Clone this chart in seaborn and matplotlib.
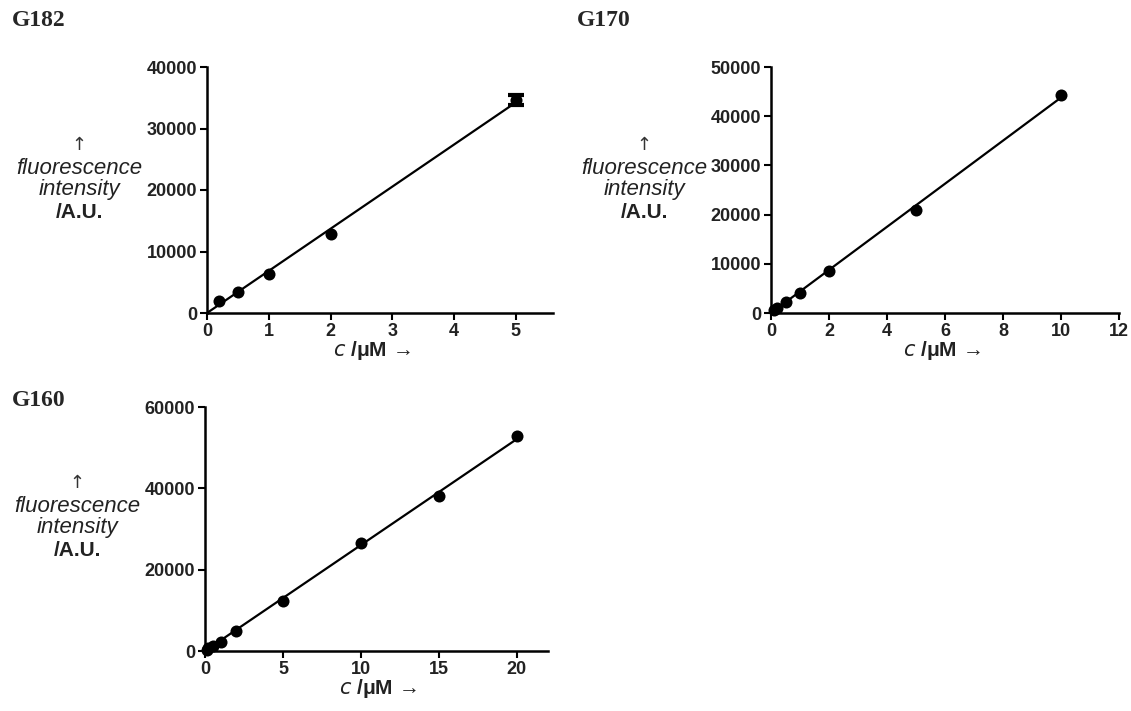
import numpy as np
import pandas as pd
import matplotlib
matplotlib.use("Agg")
import matplotlib.pyplot as plt
import seaborn as sns

# ---- data ----
g182_c = [0.2, 0.5, 1, 2, 5]
g182_f = [2000, 3400, 6300, 12800, 34700]
g182_err = [0, 0, 0, 0, 800]

g170_c = [0.1, 0.2, 0.5, 1, 2, 5, 10]
g170_f = [600, 1100, 2200, 4000, 8600, 21000, 44300]

g160_c = [0.1, 0.2, 0.5, 1, 2, 5, 10, 15, 20]
g160_f = [300, 700, 1300, 2300, 5000, 12200, 26500, 38200, 52800]

titles = ["G182", "G170", "G160"]
x_ticks = [[0, 1, 2, 3, 4, 5], [0, 2, 4, 6, 8, 10, 12], [0, 5, 10, 15, 20]]
y_ticks = [[0, 10000, 20000, 30000, 40000],
           [0, 10000, 20000, 30000, 40000, 50000],
           [0, 20000, 40000, 60000]]
x_lims = [(0, 5.6), (0, 12), (0, 22)]

sns.set_theme(style="ticks")
plt.rcParams['font.family'] = ['Liberation Sans', 'DejaVu Sans']

fig = plt.figure(figsize=(11.31, 7.11), dpi=100)
W, H = 1131, 711

def px_axes(l, t, r, b):
    return fig.add_axes([l / W, 1 - b / H, (r - l) / W, (b - t) / H])

axes = [px_axes(207, 67, 553, 313), px_axes(771, 67, 1119, 313), px_axes(205, 407, 548, 651)]
datasets = [(g182_c, g182_f, g182_err), (g170_c, g170_f, None), (g160_c, g160_f, None)]

for i, (ax, (cx, fy, err)) in enumerate(zip(axes, datasets)):
    df = pd.DataFrame({"c": cx, "f": fy})
    cx_a = np.array(cx, float)
    fy_a = np.array(fy, float)
    slope = (cx_a * fy_a).sum() / (cx_a * cx_a).sum()
    xs = np.array([0, cx_a.max()])
    ax.plot(xs, slope * xs, color="black", lw=1.6, zorder=2)
    if err is not None:
        e = np.array(err, float)
        m = e > 0
        ax.errorbar(cx_a[m], fy_a[m], yerr=e[m], fmt="none", ecolor="black", elinewidth=2.5,
                    capsize=6, capthick=3, zorder=3)
    sns.scatterplot(data=df, x="c", y="f", ax=ax, color="black", s=75,
                    edgecolor="black", linewidth=0, zorder=4, legend=False, clip_on=False)
    ax.set_xlim(*x_lims[i])
    ax.set_ylim(0, max(y_ticks[i]))
    ax.set_xticks(x_ticks[i])
    ax.set_yticks(y_ticks[i])
    ax.set_xticklabels([str(t) for t in x_ticks[i]], fontweight="bold", fontsize=13, color="#222222")
    ax.set_yticklabels([str(t) for t in y_ticks[i]], fontweight="bold", fontsize=13, color="#222222")
    ax.set_xlabel("")
    ax.set_ylabel("")
    for s in ["top", "right"]:
        ax.spines[s].set_visible(False)
    for s in ["left", "bottom"]:
        ax.spines[s].set_linewidth(1.8)
        ax.spines[s].set_color("black")
    ax.tick_params(width=1.5, length=5, color="black", pad=2)
    ax.set_facecolor("none")

# titles
title_pos = [(12, 20), (577, 20), (12, 400)]
for t, (x, y) in zip(titles, title_pos):
    fig.text(x / W, 1 - y / H, t, fontsize=17, fontweight="bold",
             family="Liberation Serif", va="center", ha="left")

# y-labels
ylab_centers = [(79, 145), (644, 145), (77, 483)]
for (x, y) in ylab_centers:
    fig.text(x / W, 1 - y / H, "↑", fontsize=13, ha="center", va="center", color="#333333",
             family=["DejaVu Sans"])
    fig.text(x / W, 1 - (y + 23) / H, "fluorescence", fontsize=16, style="italic",
             ha="center", va="center", color="#222222")
    fig.text(x / W, 1 - (y + 45) / H, "intensity", fontsize=16, style="italic",
             ha="center", va="center", color="#222222")
    fig.text(x / W, 1 - (y + 68) / H, "/A.U.", fontsize=15, fontweight="bold",
             ha="center", va="center", color="#222222")

# x-labels
xlab_centers = [(372, 351), (942, 351), (378, 688)]
for (x, y) in xlab_centers:
    fig.text(x / W, 1 - y / H, r"$\mathit{c}$ /μM →", fontsize=15, fontweight="bold",
             ha="center", va="center", color="#222222")

fig.savefig("out.png", dpi=100)
